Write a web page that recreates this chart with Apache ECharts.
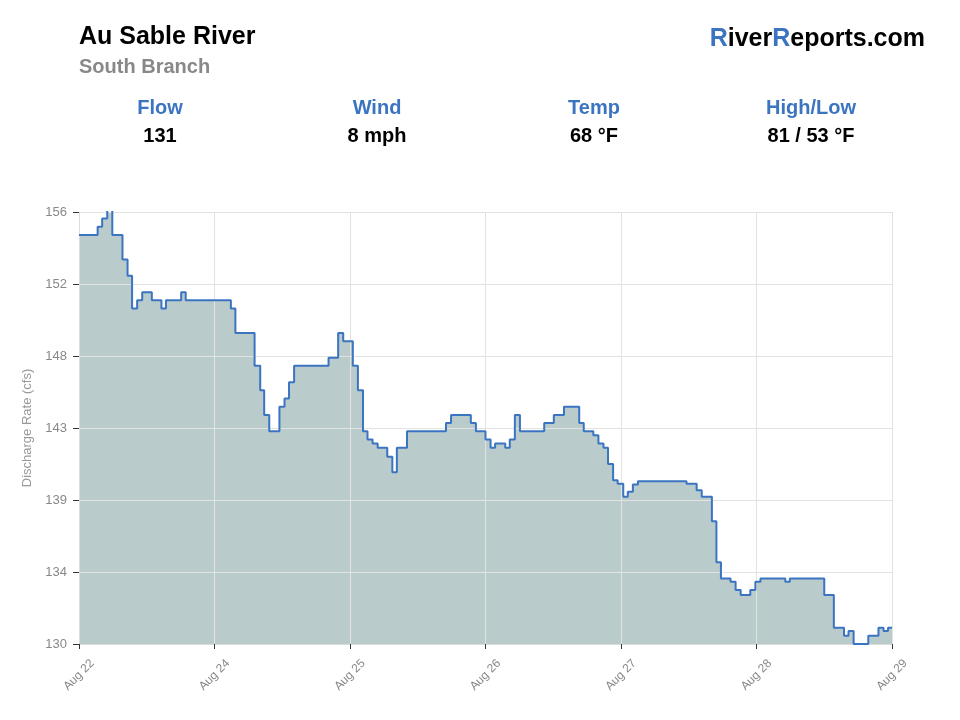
<!DOCTYPE html>
<html>
<head>
<meta charset="utf-8">
<title>Au Sable River - South Branch</title>
<script src="https://cdn.jsdelivr.net/npm/echarts@6/dist/echarts.min.js"></script>
<style>
  html, body { margin: 0; padding: 0; background: #fff; }
  #chart { width: 960px; height: 720px; }
</style>
</head>
<body>
<div id="chart"></div>
<script>
// hours since start of the plot
var hours = [0, 3.3, 4.1, 5.0, 5.9, 7.7, 8.6, 9.4, 10.3, 11.2, 12.9, 14.6, 15.4, 18.1, 18.9,
    26.9, 27.7, 31.1, 32.1, 32.8, 33.7, 35.5, 36.4, 37.2, 38.1, 44.2, 45.9, 46.8, 48.5, 49.4,
    50.3, 51.1, 52.0, 52.9, 54.6, 55.5, 56.3, 58.1, 65.0, 65.9, 69.4, 70.3, 72.0, 72.9, 73.7,
    75.5, 76.3, 77.2, 78.1, 82.4, 84.1, 85.9, 88.6, 89.4, 91.1, 92.0, 92.9, 93.7, 94.6, 95.4,
    96.4, 97.2, 98.1, 99.0, 107.6, 109.4, 110.3, 112.1, 112.9, 113.7, 115.4, 116.3, 117.2, 118.9,
    119.8, 120.7, 125.1, 125.9, 132.0, 133.7, 135.5, 136.3, 137.2, 139.8, 141.6, 142.5, 143.3, 144];

// discharge (cfs)
var flow = [155, 155.5, 156, 156.6, 155, 153.5, 152.5, 150.5, 151, 151.5, 151, 150.5, 151, 151.5, 151,
    150.5, 149, 147, 145.5, 144, 143, 144.5, 145, 146, 147, 147.5, 149, 148.5, 147, 145.5,
    143, 142.5, 142.25, 142, 141.45, 140.5, 142, 143, 143.5, 144, 143.5, 143, 142.5, 142, 142.25,
    142, 142.5, 144, 143, 143.5, 144, 144.5, 143.5, 143, 142.75, 142.25, 142, 141, 140, 139.8,
    139, 139.3, 139.75, 139.95, 139.8, 139.4, 139, 137.5, 135, 134, 133.8, 133.3, 133, 133.3,
    133.8, 134, 133.8, 134, 133, 131, 130.5, 130.8, 130, 130.5, 131, 130.8, 131, 131];

var xTickLabels = ['Aug 22', 'Aug 24', 'Aug 25', 'Aug 26', 'Aug 27', 'Aug 28', 'Aug 29'];
var yTickLabels = ['130', '134', '139', '143', '148', '152', '156'];

var stats = [
    { name: 'Flow', value: '131' },
    { name: 'Wind', value: '8 mph' },
    { name: 'Temp', value: '68 °F' },
    { name: 'High/Low', value: '81 / 53 °F' }
];

var FONT = '"Liberation Sans", Arial, Helvetica, sans-serif';
var BLUE = '#3b74c0';

// build pairs for the step line
var points = [];
for (var i = 0; i < hours.length; i++) {
    points.push([hours[i], flow[i]]);
}

// header texts
var graphics = [
    { type: 'text', x: 79, y: 37, style: { text: 'Au Sable River', font: 'bold 25px ' + FONT, fill: '#000', textVerticalAlign: 'middle' } },
    { type: 'text', x: 79, y: 67, style: { text: 'South Branch', font: 'bold 20px ' + FONT, fill: '#888', textVerticalAlign: 'middle' } }
];
var statX = [160, 377, 594, 811];
stats.forEach(function (s, k) {
    graphics.push({ type: 'text', x: statX[k], y: 108, style: { text: s.name, font: 'bold 20px ' + FONT, fill: BLUE, textAlign: 'center', textVerticalAlign: 'middle' } });
    graphics.push({ type: 'text', x: statX[k], y: 136, style: { text: s.value, font: 'bold 20px ' + FONT, fill: '#000', textAlign: 'center', textVerticalAlign: 'middle' } });
});

var chart = echarts.init(document.getElementById('chart'));

chart.setOption({
    backgroundColor: '#fff',
    animation: false,
    textStyle: { fontFamily: FONT },
    title: {
        text: '{b|R}{a|iver}{b|R}{a|eports.com}',
        right: 30,
        top: 22,
        textStyle: {
            rich: {
                a: { fontSize: 25, fontWeight: 'bold', color: '#000', fontFamily: FONT },
                b: { fontSize: 25, fontWeight: 'bold', color: BLUE, fontFamily: FONT }
            }
        }
    },
    graphic: graphics,
    grid: { left: 79, right: 68, top: 212, bottom: 76 },
    xAxis: {
        type: 'value',
        min: 0,
        max: 144,
        interval: 24,
        z: 3,
        axisLine: { show: true, lineStyle: { color: '#dcdcdc', width: 1 } },
        axisTick: { show: true, length: 5, lineStyle: { color: '#333' } },
        splitLine: { show: true, lineStyle: { color: '#e2e2e2', width: 1 } },
        axisLabel: {
            rotate: 45,
            align: 'center',
            verticalAlign: 'middle',
            color: '#888',
            fontSize: 12,
            margin: 31,
            formatter: function (v) {
                return xTickLabels[Math.round(v / 24)] || '';
            }
        }
    },
    yAxis: {
        type: 'value',
        min: 130,
        max: 156.4,
        interval: 4.4,
        z: 3,
        name: 'Discharge Rate (cfs)',
        nameLocation: 'middle',
        nameGap: 43,
        nameTextStyle: { color: '#999', fontSize: 13 },
        axisLine: { show: true, lineStyle: { color: '#dcdcdc', width: 1 } },
        axisTick: { show: true, length: 6, lineStyle: { color: '#333' } },
        splitLine: { show: true, lineStyle: { color: '#e2e2e2', width: 1 } },
        axisLabel: {
            color: '#888',
            fontSize: 13,
            margin: 12,
            formatter: function (v, idx) {
                return yTickLabels[idx] !== undefined ? yTickLabels[idx] : Math.round(v);
            }
        }
    },
    series: [
        {
            // area only, sits under the grid lines
            type: 'line',
            step: 'end',
            data: points,
            showSymbol: false,
            z: 1,
            lineStyle: { width: 0 },
            areaStyle: { color: '#bacbcc', opacity: 1 },
            silent: true
        },
        {
            type: 'line',
            step: 'end',
            data: points,
            showSymbol: false,
            z: 5,
            lineStyle: { color: BLUE, width: 2 }
        }
    ]
});
</script>
</body>
</html>
